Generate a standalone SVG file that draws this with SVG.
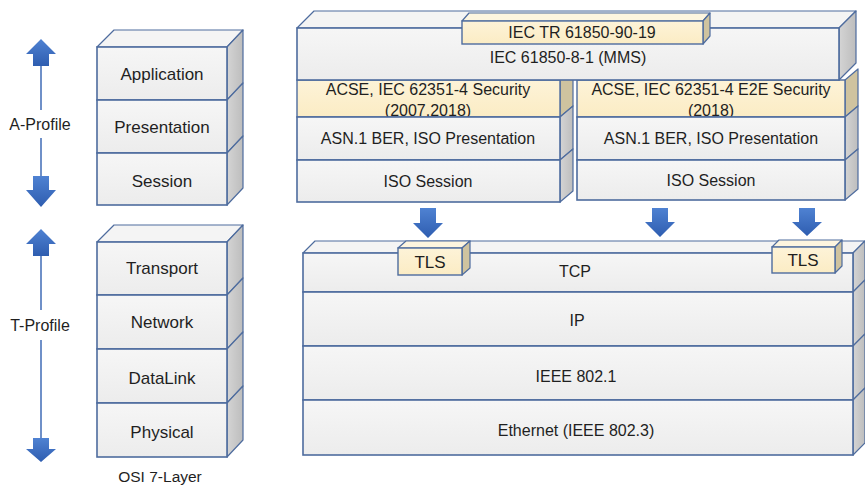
<svg xmlns="http://www.w3.org/2000/svg" width="865" height="486" viewBox="0 0 865 486">
  <defs>
    <linearGradient id="gFront" x1="0" y1="0" x2="0" y2="1">
      <stop offset="0" stop-color="#f6f6f6"/>
      <stop offset="1" stop-color="#ececec"/>
    </linearGradient>
    <linearGradient id="gSide" x1="0" y1="0" x2="1" y2="0">
      <stop offset="0" stop-color="#d4d4d4"/>
      <stop offset="1" stop-color="#bdbdbd"/>
    </linearGradient>
    <linearGradient id="gYellow" x1="0" y1="0" x2="0" y2="1">
      <stop offset="0" stop-color="#fdf3d8"/>
      <stop offset="1" stop-color="#fbecc4"/>
    </linearGradient>
    <linearGradient id="gArrow" x1="0" y1="0" x2="0" y2="1">
      <stop offset="0" stop-color="#4f82d2"/>
      <stop offset="1" stop-color="#2e5db0"/>
    </linearGradient>
  </defs>
  <style>
    .front { fill: url(#gFront); stroke: #4e6c9e; stroke-width: 1.6; }
    .side { fill: url(#gSide); stroke: #4e6c9e; stroke-width: 1.2; stroke-linejoin: round; }
    .top { fill: #f4f4f4; stroke: #4e6c9e; stroke-width: 1.2; stroke-linejoin: round; }
    .yfront { fill: url(#gYellow); stroke: #4e6c9e; stroke-width: 1.4; }
    .yside { fill: #cfc39f; stroke: #4e6c9e; stroke-width: 1.2; stroke-linejoin: round; }
    .ytop { fill: #fdf5df; stroke: #4e6c9e; stroke-width: 1.2; stroke-linejoin: round; }
    .arrow { fill: url(#gArrow); }
    .axis { stroke: #6f90c8; stroke-width: 2; fill: none; }
    text { font-family: "Liberation Sans", Arial, sans-serif; font-size: 16px; fill: #1f1f1f; text-anchor: middle; }
    .osi { font-size: 17px; }
    .lbl { font-size: 16px; }
    .tls { font-size: 17px; }
  </style>

  <!-- profile axes and layer-to-layer arrows -->
  <g id="connectors">
    <g id="a-profile-axis">
      <line class="axis" x1="41" y1="64" x2="41" y2="110"/>
      <line class="axis" x1="41" y1="138" x2="41" y2="178"/>
      <polygon class="arrow" points="41,39 56,54 49,54 49,66 33,66 33,54 26,54"/>
      <polygon class="arrow" points="33,176 49,176 49,190 56,190 41,207 26,190 33,190"/>
    </g>
    <g id="t-profile-axis">
      <line class="axis" x1="41" y1="254" x2="41" y2="310"/>
      <line class="axis" x1="41" y1="340" x2="41" y2="440"/>
      <polygon class="arrow" points="41,229 56,244 49,244 49,256 33,256 33,244 26,244"/>
      <polygon class="arrow" points="33,438 49,438 49,449 56,449 41,462 26,449 33,449"/>
    </g>
    <!-- session to transport arrows -->
    <polygon class="arrow" points="420,208 436,208 436,223 443,223 428,238 413,223 420,223"/>
    <polygon class="arrow" points="652,208 668,208 668,222 675,222 660,237 645,222 652,222"/>
    <polygon class="arrow" points="799,208 815,208 815,222 822,222 807,236 792,222 799,222"/>
  </g>
  <text class="lbl" x="40" y="130">A-Profile</text>
  <text class="lbl" x="40" y="331">T-Profile</text>

  <!-- OSI A-profile stack -->
  <g id="osi-application">
    <polygon class="top" points="97,47 114,30 243,30 227,47"/>
    <polygon class="side" points="227,47 243,30 243,83 227,100"/>
    <rect class="front" x="97" y="47" width="130" height="53"/>
    <text class="osi" x="162" y="80">Application</text>
  </g>
  <g id="osi-presentation">
    <polygon class="side" points="227,100 243,83 243,136 227,153"/>
    <rect class="front" x="97" y="100" width="130" height="53"/>
    <text class="osi" x="162" y="133">Presentation</text>
  </g>
  <g id="osi-session">
    <polygon class="side" points="227,153 243,136 243,188 227,205"/>
    <rect class="front" x="97" y="153" width="130" height="52"/>
    <text class="osi" x="162" y="187">Session</text>
  </g>

  <!-- OSI T-profile stack -->
  <g id="osi-transport">
    <polygon class="top" points="97,242 114,225 243,225 227,242"/>
    <polygon class="side" points="227,242 243,225 243,278 227,295"/>
    <rect class="front" x="97" y="242" width="130" height="53"/>
    <text class="osi" x="162" y="274">Transport</text>
  </g>
  <g id="osi-network">
    <polygon class="side" points="227,295 243,278 243,332 227,349"/>
    <rect class="front" x="97" y="295" width="130" height="54"/>
    <text class="osi" x="162" y="328">Network</text>
  </g>
  <g id="osi-datalink">
    <polygon class="side" points="227,349 243,332 243,386 227,403"/>
    <rect class="front" x="97" y="349" width="130" height="54"/>
    <text class="osi" x="162" y="384">DataLink</text>
  </g>
  <g id="osi-physical">
    <polygon class="side" points="227,403 243,386 243,440 227,457"/>
    <rect class="front" x="97" y="403" width="130" height="54"/>
    <text class="osi" x="162" y="438">Physical</text>
  </g>
  <text x="160" y="482" style="font-size:15.5px">OSI 7-Layer</text>

  <!-- left sub-stack (ACSE security) -->
  <g id="acse-left">
    <polygon class="yside" points="560,80 573,69 573,106 560,117"/>
    <rect class="yfront" x="297" y="80" width="263" height="37"/>
    <text x="428" y="95">ACSE, IEC 62351-4 Security</text>
    <text x="428" y="116">(2007,2018)</text>
  </g>
  <g id="asn-left">
    <polygon class="side" points="560,117 573,106 573,149 560,160"/>
    <rect class="front" x="297" y="117" width="263" height="43"/>
    <text x="428" y="144">ASN.1 BER, ISO Presentation</text>
  </g>
  <g id="session-left">
    <polygon class="side" points="560,160 573,149 573,191 560,202"/>
    <rect class="front" x="297" y="160" width="263" height="42"/>
    <text x="428" y="187">ISO Session</text>
  </g>

  <!-- right sub-stack (ACSE E2E security) -->
  <g id="acse-right">
    <polygon class="yside" points="845,80 858,69 858,106 845,117"/>
    <rect class="yfront" x="577" y="80" width="268" height="37"/>
    <text x="711" y="95">ACSE, IEC 62351-4 E2E Security</text>
    <text x="711" y="116">(2018)</text>
  </g>
  <g id="asn-right">
    <polygon class="side" points="845,117 858,106 858,149 845,160"/>
    <rect class="front" x="577" y="117" width="268" height="43"/>
    <text x="711" y="144">ASN.1 BER, ISO Presentation</text>
  </g>
  <g id="session-right">
    <polygon class="side" points="845,160 858,149 858,189 845,200"/>
    <rect class="front" x="577" y="160" width="268" height="40"/>
    <text x="711" y="186">ISO Session</text>
  </g>

  <!-- MMS layer -->
  <g id="mms">
    <polygon class="top" points="297,28 314,11 856,11 839,28"/>
    <polygon class="side" points="839,28 856,11 856,63 839,80"/>
    <rect class="front" x="297" y="28" width="542" height="52"/>
    <text x="568" y="63">IEC 61850-8-1 (MMS)</text>
  </g>
  <g id="iec-tr">
    <polygon class="ytop" points="462,21 469,13 710,13 703,21"/>
    <polygon class="yside" points="703,21 710,13 710,36 703,44"/>
    <rect class="yfront" x="462" y="21" width="241" height="23"/>
    <text x="582" y="38">IEC TR 61850-90-19</text>
  </g>

  <!-- transport stack -->
  <g id="tcp">
    <polygon class="top" points="303,253 315,241 865,241 853,253"/>
    <polygon class="side" points="853,253 865,241 865,280 853,292"/>
    <rect class="front" x="303" y="253" width="550" height="39"/>
    <text x="575" y="277">TCP</text>
  </g>
  <g id="ip">
    <polygon class="side" points="853,292 865,280 865,334 853,346"/>
    <rect class="front" x="303" y="292" width="550" height="54"/>
    <text x="577" y="326">IP</text>
  </g>
  <g id="ieee8021">
    <polygon class="side" points="853,346 865,334 865,388 853,400"/>
    <rect class="front" x="303" y="346" width="550" height="54"/>
    <text x="576" y="382">IEEE 802.1</text>
  </g>
  <g id="ethernet">
    <polygon class="side" points="853,400 865,388 865,443 853,455"/>
    <rect class="front" x="303" y="400" width="550" height="55"/>
    <text x="576" y="436">Ethernet (IEEE 802.3)</text>
  </g>
  <g id="tls-left">
    <polygon class="ytop" points="398,248 406,241 470,241 462,248"/>
    <polygon class="yside" points="462,248 470,241 470,268 462,275"/>
    <rect class="yfront" x="398" y="248" width="64" height="27"/>
    <text class="tls" x="430" y="268">TLS</text>
  </g>
  <g id="tls-right">
    <polygon class="ytop" points="772,247 779,240 842,240 835,247"/>
    <polygon class="yside" points="835,247 842,240 842,266 835,273"/>
    <rect class="yfront" x="772" y="247" width="63" height="26"/>
    <text class="tls" x="803" y="266">TLS</text>
  </g>
</svg>
